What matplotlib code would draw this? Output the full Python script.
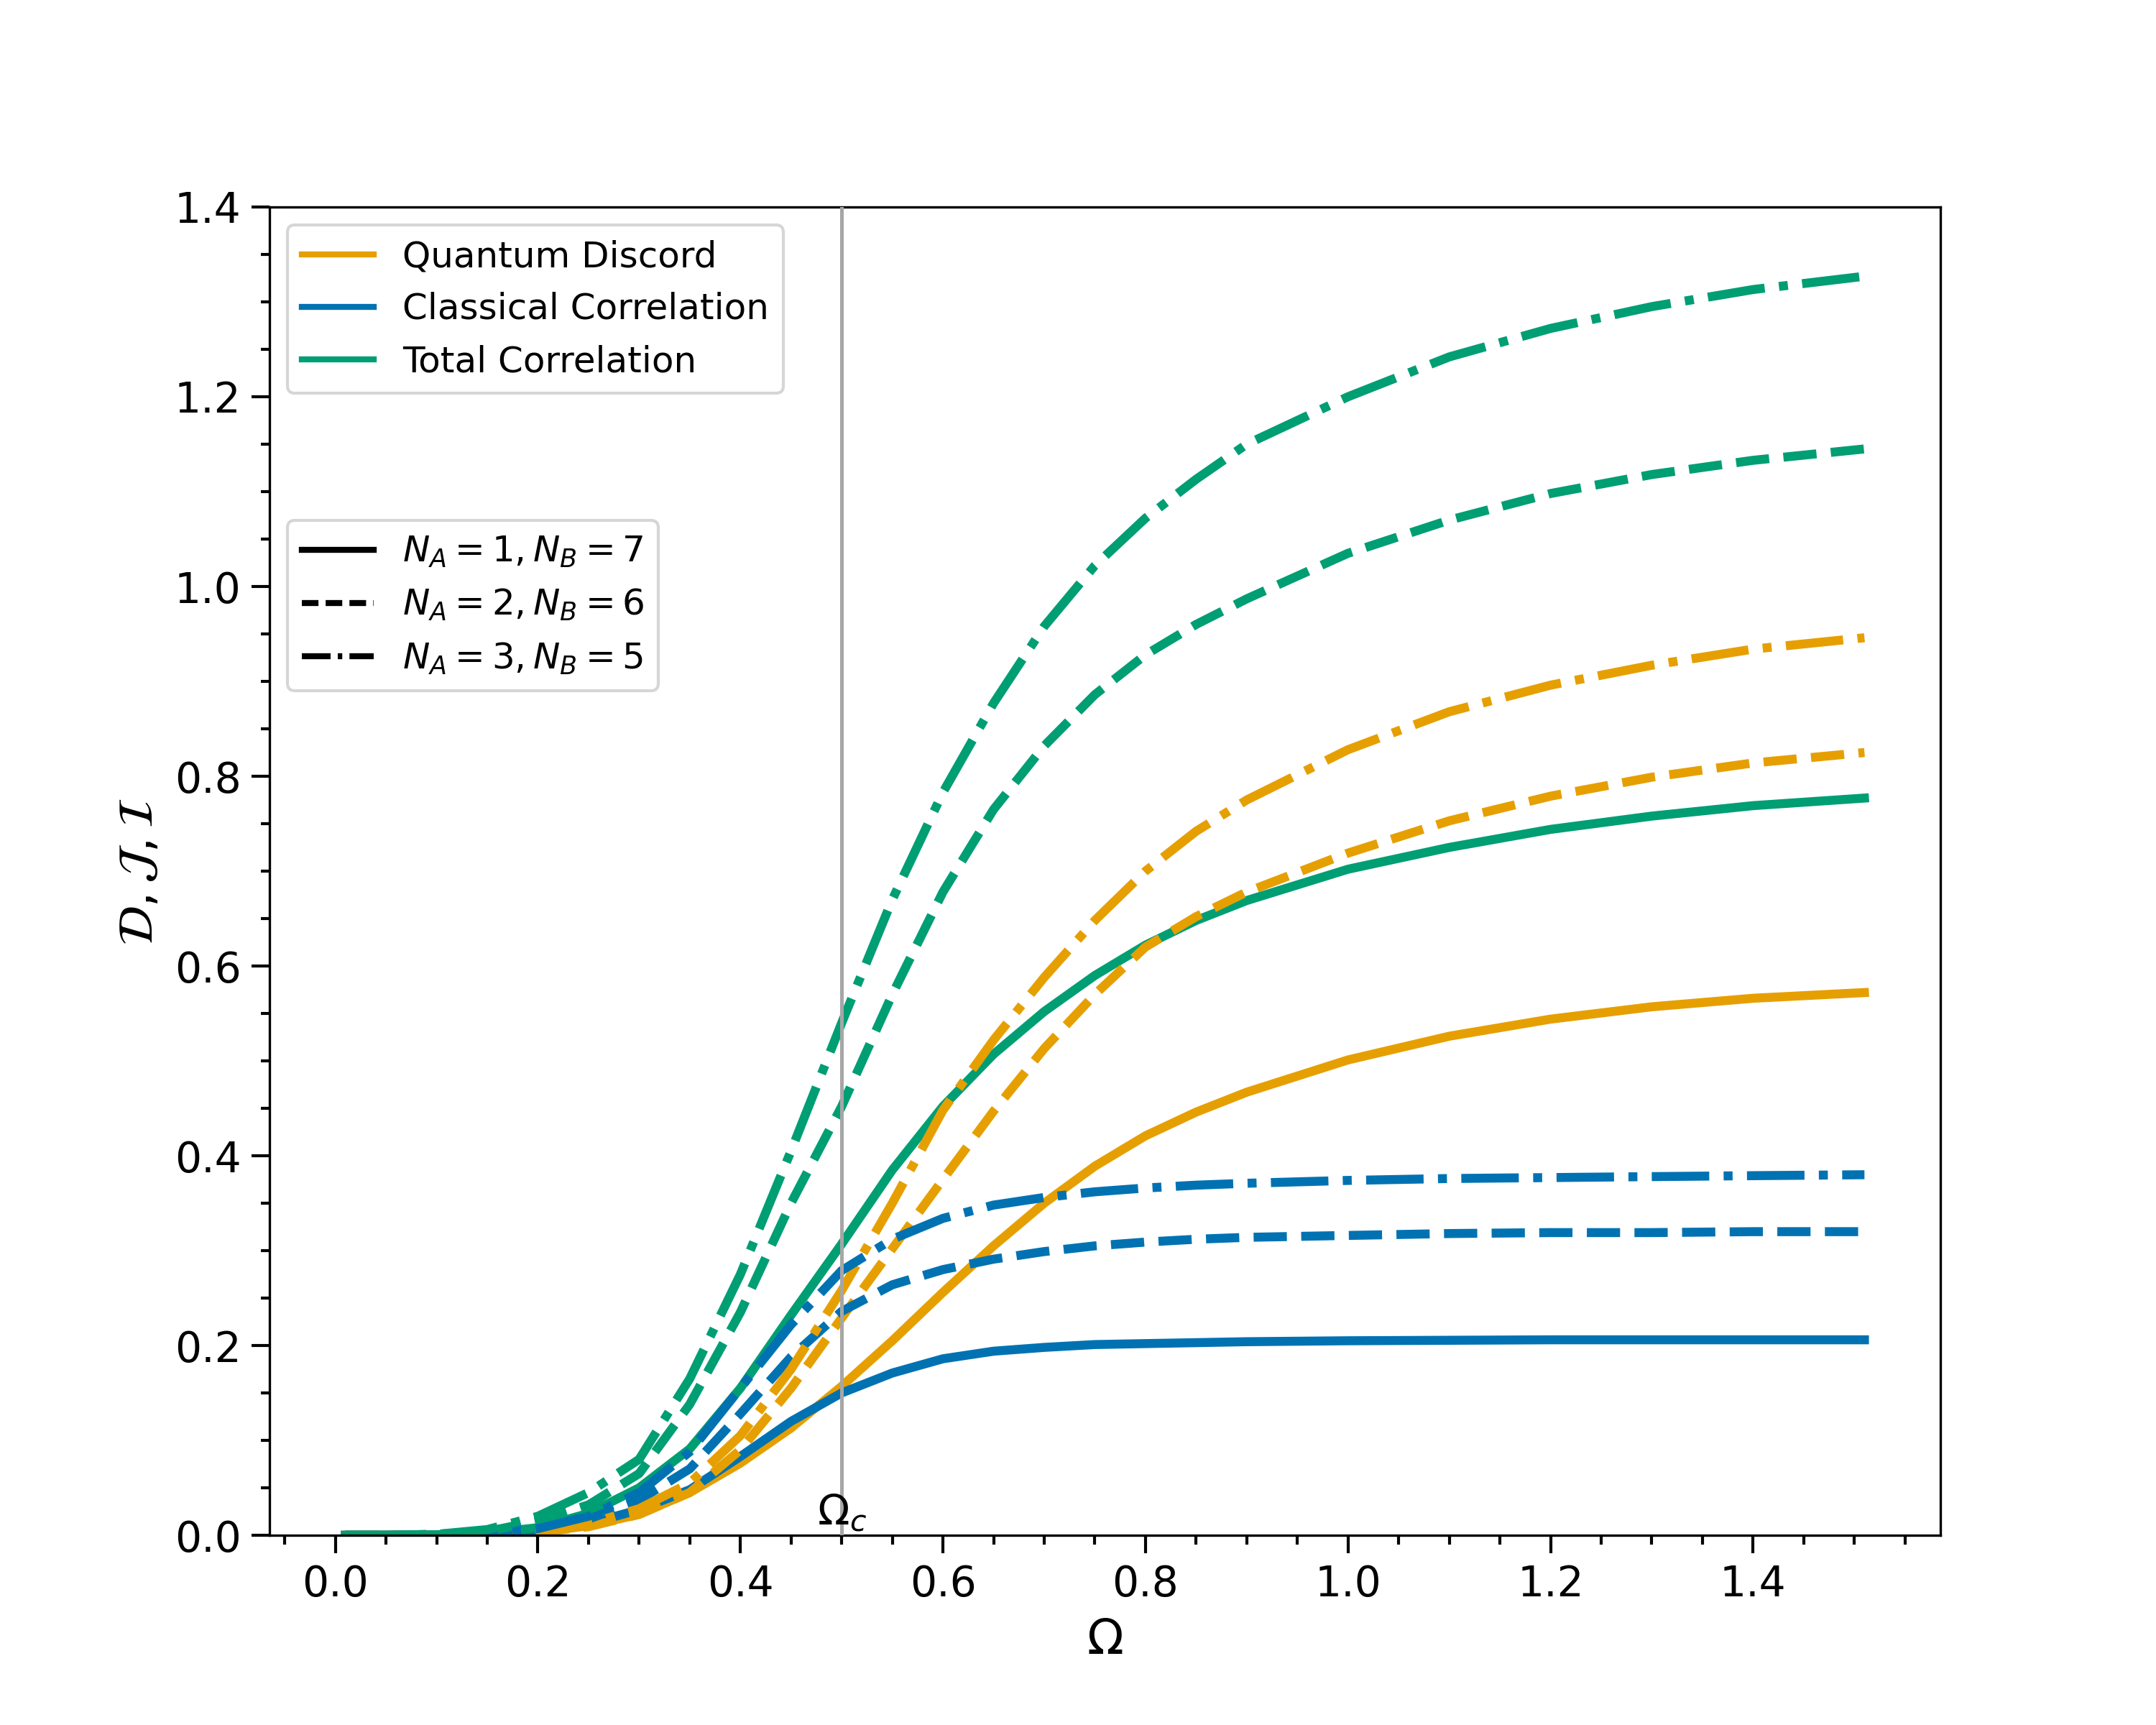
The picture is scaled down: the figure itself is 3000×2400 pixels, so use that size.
import matplotlib
matplotlib.use("Agg")
import matplotlib.pyplot as plt
from matplotlib.lines import Line2D

# Omega grid
omega = [0.01, 0.05, 0.10, 0.15, 0.20, 0.25, 0.30, 0.35, 0.40, 0.45, 0.50,
         0.55, 0.60, 0.65, 0.70, 0.75, 0.80, 0.85, 0.90, 1.00, 1.10, 1.20,
         1.30, 1.40, 1.51]

# N_A=1, N_B=7
qd1 = [0.0, 0.0, 0.0003, 0.001, 0.003, 0.010, 0.022, 0.045, 0.076, 0.113, 0.157,
       0.205, 0.256, 0.305, 0.350, 0.389, 0.421, 0.446, 0.467, 0.501, 0.526, 0.544,
       0.557, 0.566, 0.572]
cc1 = [0.0, 0.0, 0.0003, 0.001, 0.004, 0.012, 0.027, 0.048, 0.083, 0.120, 0.150,
       0.171, 0.186, 0.194, 0.198, 0.201, 0.202, 0.203, 0.204, 0.205, 0.2055, 0.206,
       0.206, 0.206, 0.206]
tc1 = [0.0, 0.0, 0.0006, 0.002, 0.008, 0.023, 0.050, 0.091, 0.155, 0.232, 0.307,
       0.385, 0.452, 0.507, 0.552, 0.590, 0.622, 0.648, 0.669, 0.702, 0.725, 0.744,
       0.758, 0.769, 0.777]

# N_A=2, N_B=6
qd2 = [0.0, 0.0, 0.0003, 0.001, 0.003, 0.009, 0.022, 0.045, 0.090, 0.155, 0.229,
       0.302, 0.375, 0.447, 0.513, 0.570, 0.620, 0.652, 0.678, 0.719, 0.753, 0.779,
       0.799, 0.814, 0.825]
cc2 = [0.0, 0.0, 0.0005, 0.002, 0.006, 0.017, 0.037, 0.070, 0.128, 0.188, 0.236,
       0.264, 0.280, 0.291, 0.299, 0.305, 0.309, 0.312, 0.314, 0.316, 0.318, 0.319,
       0.319, 0.320, 0.320]
tc2 = [0.0, 0.0, 0.001, 0.004, 0.015, 0.032, 0.065, 0.138, 0.235, 0.350, 0.452,
       0.570, 0.678, 0.765, 0.832, 0.886, 0.928, 0.960, 0.987, 1.035, 1.070, 1.098,
       1.118, 1.133, 1.145]

# N_A=3, N_B=5
qd3 = [0.0, 0.0, 0.0005, 0.001, 0.003, 0.012, 0.028, 0.055, 0.105, 0.175, 0.258,
       0.350, 0.448, 0.522, 0.588, 0.648, 0.700, 0.742, 0.775, 0.828, 0.868, 0.896,
       0.917, 0.934, 0.946]
cc3 = [0.0, 0.0, 0.0005, 0.002, 0.007, 0.020, 0.045, 0.088, 0.155, 0.222, 0.279,
       0.312, 0.334, 0.348, 0.356, 0.362, 0.366, 0.369, 0.371, 0.374, 0.376, 0.377,
       0.378, 0.379, 0.380]
tc3 = [0.0, 0.0, 0.001, 0.006, 0.020, 0.045, 0.080, 0.165, 0.275, 0.405, 0.540,
       0.670, 0.783, 0.877, 0.958, 1.022, 1.072, 1.113, 1.150, 1.200, 1.242, 1.272,
       1.295, 1.313, 1.327]

quantity_labels = ["Quantum Discord", "Classical Correlation", "Total Correlation"]
config_labels = [r"$N_A = 1, N_B = 7$", r"$N_A = 2, N_B = 6$", r"$N_A = 3, N_B = 5$"]
omega_c = 0.5

colors = ["#E69F00", "#0072B2", "#009E73"]
styles = ["-", "--", "-."]
configs = [(qd1, cc1, tc1), (qd2, cc2, tc2), (qd3, cc3, tc3)]

fig, ax = plt.subplots(figsize=(10, 8), dpi=300)

for ls, series in zip(styles, configs):
    for col, ys in zip(colors, series):
        ax.plot(omega, ys, color=col, linestyle=ls, lw=3)

ax.axvline(omega_c, color="#a6a6a6", lw=1.2, zorder=5)
ax.text(omega_c, 0.002, r"$\Omega_c$", ha="center", va="bottom", fontsize=14, zorder=6)

ax.set_ylim(0, 1.4)
ax.set_xlabel(r"$\Omega$", fontsize=16)
ax.set_ylabel(r"$\mathcal{D}, \mathcal{J}, \mathcal{I}$", fontsize=16)
ax.minorticks_on()
ax.tick_params(which="major", length=6, width=1, labelsize=14)
ax.tick_params(which="minor", length=3, width=1)

h1 = [Line2D([0], [0], color=c, lw=2) for c in colors]
leg1 = ax.legend(h1, quantity_labels, loc="upper left", fontsize=12)
ax.add_artist(leg1)
h2 = [Line2D([0], [0], color="black", lw=2, linestyle="-"),
      Line2D([0], [0], color="black", lw=2, linestyle=(0, (2.775, 1.2))),
      Line2D([0], [0], color="black", lw=2, linestyle=(0, (4.8, 1.2, 0.75, 1.2)))]
ax.legend(h2, config_labels, loc="center left", bbox_to_anchor=(0, 0.7), fontsize=12)

fig.savefig("out.png", dpi=300)
